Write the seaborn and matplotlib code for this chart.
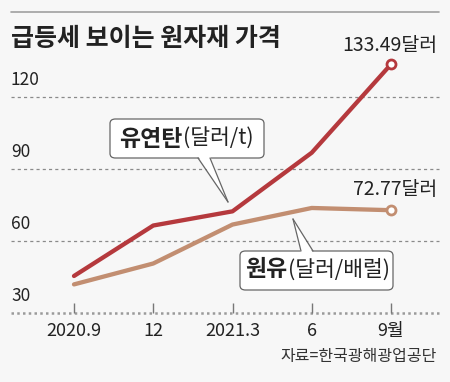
import pandas as pd
import matplotlib.pyplot as plt
import seaborn as sns
from matplotlib.patches import FancyBboxPatch, Polygon
from matplotlib.lines import Line2D

# data
months = ['2020.9', '12', '2021.3', '6', '9월']
coal = [45.4, 66.4, 72.3, 96.7, 133.49]
oil = [41.9, 50.6, 66.8, 73.7, 72.77]
series_names = ['유연탄', '원유']
series_units = ['(달러/t)', '(달러/배럴)']
y_ticks = [30, 60, 90, 120]
colors = ['#b5393d', '#c28e71']

W, H = 450, 382
BG = '#f7f7f7'


def fx(x):
    return x / W


def fy(y):
    return 1 - y / H


sns.set_theme(style='white')
plt.rcParams['font.family'] = ['Noto Sans CJK KR', 'DejaVu Sans']

df = pd.DataFrame({
    'idx': list(range(len(months))) * 2,
    'value': coal + oil,
    'item': [series_names[0]] * len(coal) + [series_names[1]] * len(oil),
})

fig = plt.figure(figsize=(4.5, 3.82), dpi=100, facecolor=BG)
ax = fig.add_axes([0, 0, 1, 1])
ax.set_facecolor(BG)
ax.axis('off')

# scale: x index 0 -> px 74, index 4 -> px 391 ; y 30 -> px 313
xs = (391 - 74) / 4
ys = (313 - 96.7) / 90
ax.set_xlim(-74 / xs, (W - 74) / xs)
ax.set_ylim(30 - (H - 313) / ys, 30 + 313 / ys)

sns.lineplot(data=df, x='idx', y='value', hue='item', palette=colors,
             linewidth=3.1, legend=False, ax=ax, zorder=3)

# end markers
for vals, c in zip([coal, oil], colors):
    ax.scatter([len(vals) - 1], [vals[-1]], s=42, facecolor='white',
               edgecolor=c, linewidth=2, zorder=4)

# grid
for v in y_ticks[1:]:
    ax.axhline(v, xmin=fx(11), xmax=fx(439), color='#8a8a8a', lw=0.9,
               ls=(0, (2.5, 2.5)), zorder=1)
ax.axhline(y_ticks[0], xmin=fx(11), xmax=fx(439), color='#9a9a9a', lw=1.8,
           ls=(0, (1, 1.3)), zorder=1)
ax.vlines(range(len(months)), y_ticks[0], y_ticks[0] + 10 / ys,
          color='#777777', lw=1, zorder=1)

ytr = ax.get_yaxis_transform()
for v in y_ticks:
    ax.text(fx(11), v + 17 / ys, str(v), transform=ytr, ha='left',
            va='center', fontsize=12.5, color='#222222')

xtr = ax.get_xaxis_transform()
for i, m in enumerate(months):
    ax.text(i, fy(331), m, transform=xtr, ha='center', va='center',
            fontsize=13, color='#222222')

# end value labels
ax.annotate(f'{coal[-1]:.2f}달러', xy=(len(coal) - 1, coal[-1]),
            xytext=(437 - 391, 64 - 45), textcoords='offset pixels',
            ha='right', va='center', fontsize=14, color='#222222')
ax.annotate(f'{oil[-1]:.2f}달러', xy=(len(oil) - 1, oil[-1]),
            xytext=(437 - 391, 210 - 189), textcoords='offset pixels',
            ha='right', va='center', fontsize=14, color='#222222')

# title, rule and source
fig.add_artist(Line2D([fx(11), fx(439)], [fy(12), fy(12)], color='#a0a0a0',
                      lw=1.2, transform=fig.transFigure))
fig.text(fx(11), fy(39), '급등세 보이는 원자재 가격', fontsize=18,
         fontweight='bold', va='center', ha='left', color='#222222')
fig.text(fx(437), fy(357), '자료=한국광해광업공단', fontsize=11.5,
         ha='right', va='center', color='#333333')


def callout(box, base, tip, top_edge, name, unit, split_x, text_y):
    x0, y0, x1, y1 = box
    tf = fig.transFigure
    patch = FancyBboxPatch((fx(x0), fy(y1)), fx(x1) - fx(x0), fy(y0) - fy(y1),
                           boxstyle='round,pad=0,rounding_size=0.012',
                           facecolor='white', edgecolor='#666666', lw=0.9,
                           transform=tf, zorder=5)
    fig.add_artist(patch)
    by = top_edge
    inner = by + (2 if by == y0 else -2)
    tail_fill = Polygon([(fx(base[0]), fy(inner)), (fx(base[1]), fy(inner)),
                         (fx(tip[0]), fy(tip[1]))], closed=True,
                        facecolor='white', edgecolor='none', transform=tf,
                        zorder=6)
    fig.add_artist(tail_fill)
    for bx in base:
        fig.add_artist(Line2D([fx(bx), fx(tip[0])], [fy(by), fy(tip[1])],
                              color='#666666', lw=0.9, transform=tf, zorder=7))
    fig.text(fx(split_x), fy(text_y), name, fontsize=16.5, fontweight='bold',
             ha='right', va='center', color='#222222', zorder=8)
    fig.text(fx(split_x + 1), fy(text_y), unit, fontsize=15.5,
             ha='left', va='center', color='#222222', zorder=8)


callout((110, 119, 264, 158), (198, 210), (228, 202), 158,
        series_names[0], series_units[0], 182, 139)
callout((240, 251, 393, 290), (301, 313), (293, 219), 251,
        series_names[1], series_units[1], 287, 270)

fig.savefig('out.png', dpi=100, facecolor=BG)
